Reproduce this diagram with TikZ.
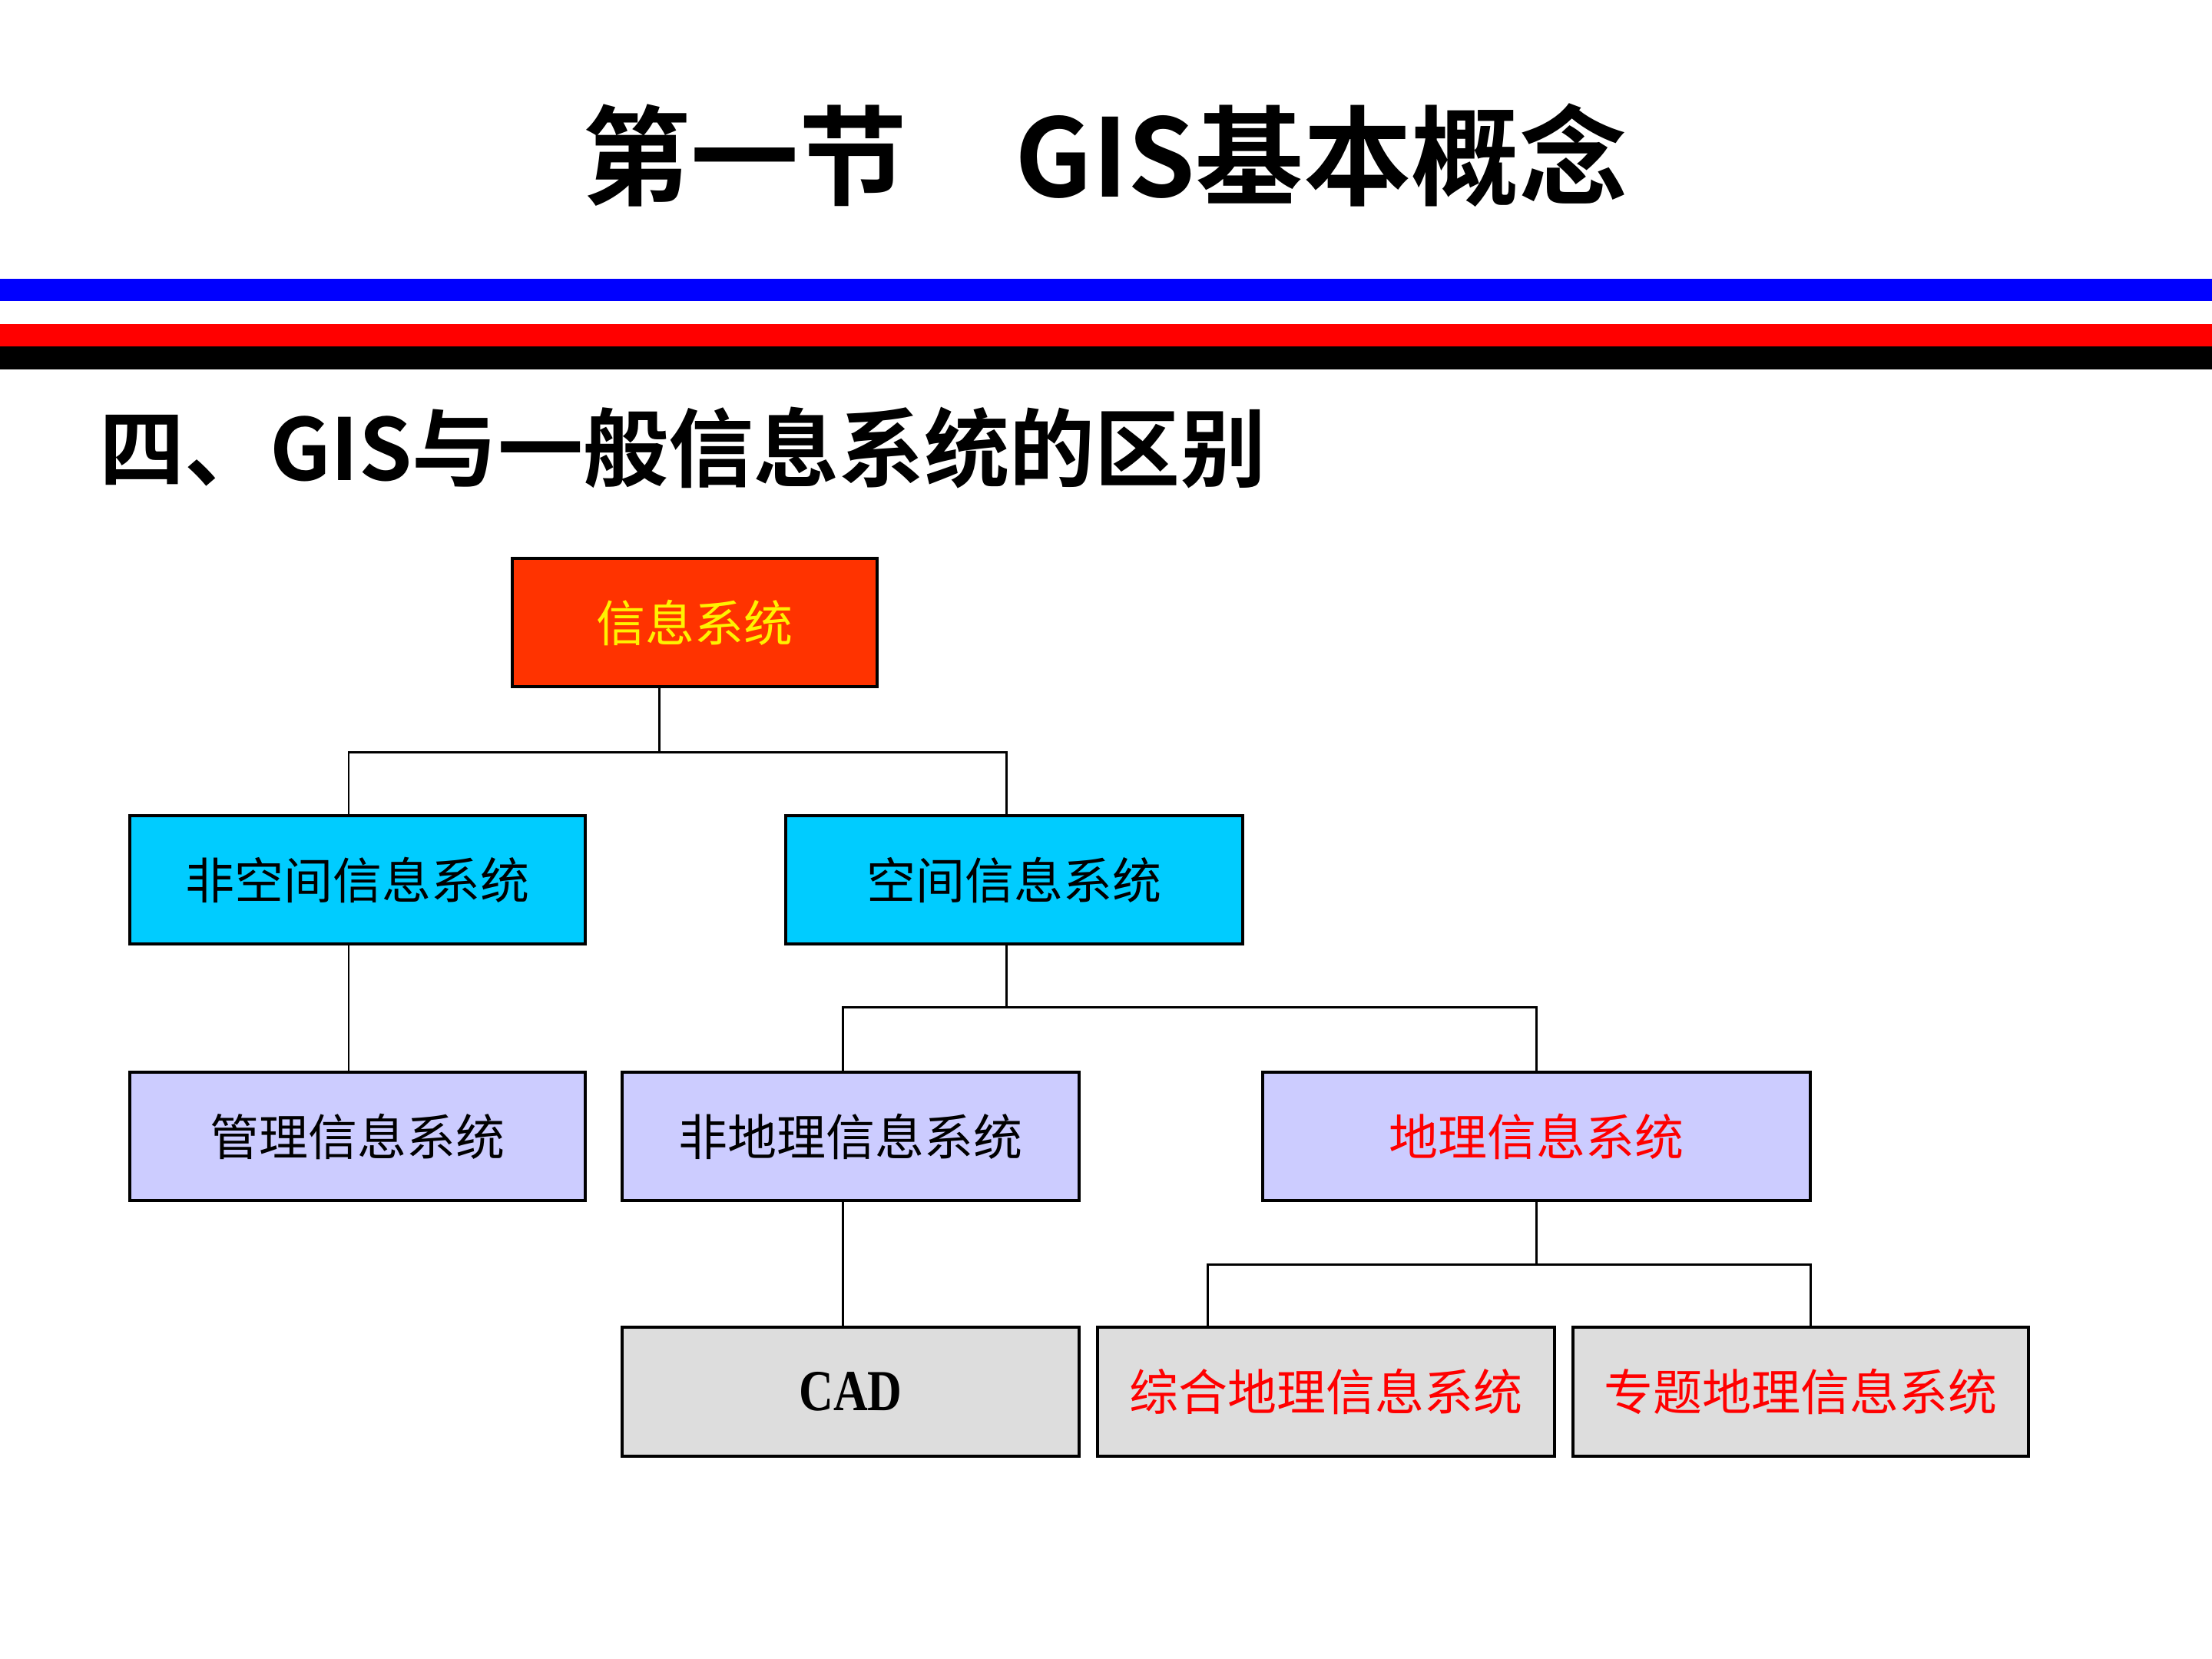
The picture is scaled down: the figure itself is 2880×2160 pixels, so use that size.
\documentclass[tikz,border=0pt]{standalone}
\usepackage{fontspec}
\usepackage{graphicx}
\newfontfamily\cjk{Noto Sans CJK SC}
\newfontfamily\cjkb{Noto Sans CJK SC Bold}
\newfontfamily\serifb{Liberation Serif Bold}
\definecolor{topred}{HTML}{FF3300}
\definecolor{cyanbox}{HTML}{00CCFF}
\definecolor{lavbox}{HTML}{CCCCFF}
\definecolor{graybox}{HTML}{DDDDDD}
\definecolor{stripeblue}{HTML}{0000FF}
\definecolor{stripered}{HTML}{FF0000}
\tikzset{
  box/.style={draw=black, line width=1pt, inner sep=0pt, outer sep=0pt,
    minimum height=1.67cm, font=\cjk\fontsize{18.2}{20}\selectfont},
  conn/.style={draw=black, line width=0.85pt},
  headline/.style={inner sep=0pt, outer sep=0pt}
}
\begin{document}
\begin{tikzpicture}[x=0.01cm, y=-0.01cm]
\useasboundingbox (0,0) rectangle (2880,2160);
\fill[white] (0,0) rectangle (2880,2160);
% stripes
\fill[stripeblue] (0,363) rectangle (2880,392);
\fill[stripered] (0,422) rectangle (2880,451);
\fill[black] (0,451) rectangle (2880,481);
% titles
\node[headline, font=\cjkb\fontsize{40}{44}\selectfont] (title) at (1439,202) {第一节　GIS基本概念};
\node[headline, anchor=west, font=\cjkb\fontsize{31.6}{34}\selectfont] (sub) at (129,583) {四、GIS与一般信息系统的区别};
% boxes
\node[box, fill=topred, text=yellow, minimum width=4.75cm] (top) at (904.5,810.5) {信息系统};
\node[box, fill=cyanbox, minimum width=5.93cm] (nsp) at (465.5,1145.5) {非空间信息系统};
\node[box, fill=cyanbox, minimum width=5.95cm] (sp) at (1320.5,1145.5) {空间信息系统};
\node[box, fill=lavbox, minimum width=5.93cm] (mis) at (465.5,1479.5) {管理信息系统};
\node[box, fill=lavbox, minimum width=5.95cm] (ngeo) at (1107.5,1479.5) {非地理信息系统};
\node[box, fill=lavbox, text=red, minimum width=7.13cm] (geo) at (2000.5,1479.5) {地理信息系统};
\node[box, fill=graybox, minimum width=5.95cm, minimum height=1.68cm] (cad) at (1107.5,1812) {\serifb\fontsize{21.5}{24}\selectfont\scalebox{0.82}[1]{CAD}};
\node[box, fill=graybox, text=red, minimum width=5.95cm, minimum height=1.68cm] (zh) at (1726.5,1812) {综合地理信息系统};
\node[box, fill=graybox, text=red, minimum width=5.93cm, minimum height=1.68cm] (zt) at (2344.5,1812) {专题地理信息系统};
% junction coordinates
\coordinate (b1m) at (858,979);
\coordinate (b1l) at (454,979);
\coordinate (b1r) at (1310,979);
\coordinate (b2m) at (1310,1311);
\coordinate (b2l) at (1097,1311);
\coordinate (b2r) at (2000,1311);
\coordinate (b3m) at (2000,1646);
\coordinate (b3l) at (1572,1646);
\coordinate (b3r) at (2357,1646);
% connectors
\draw[conn] (top.south -| b1m) -- (b1m);
\draw[conn] (nsp.north -| b1l) -- (b1l) -- (b1r) -- (sp.north -| b1r);
\draw[conn] (nsp.south -| b1l) -- (mis.north -| b1l);
\draw[conn] (sp.south -| b2m) -- (b2m);
\draw[conn] (ngeo.north -| b2l) -- (b2l) -- (b2r) -- (geo.north -| b2r);
\draw[conn] (ngeo.south -| b2l) -- (cad.north -| b2l);
\draw[conn] (geo.south -| b3m) -- (b3m);
\draw[conn] (zh.north -| b3l) -- (b3l) -- (b3r) -- (zt.north -| b3r);
\end{tikzpicture}
\end{document}
